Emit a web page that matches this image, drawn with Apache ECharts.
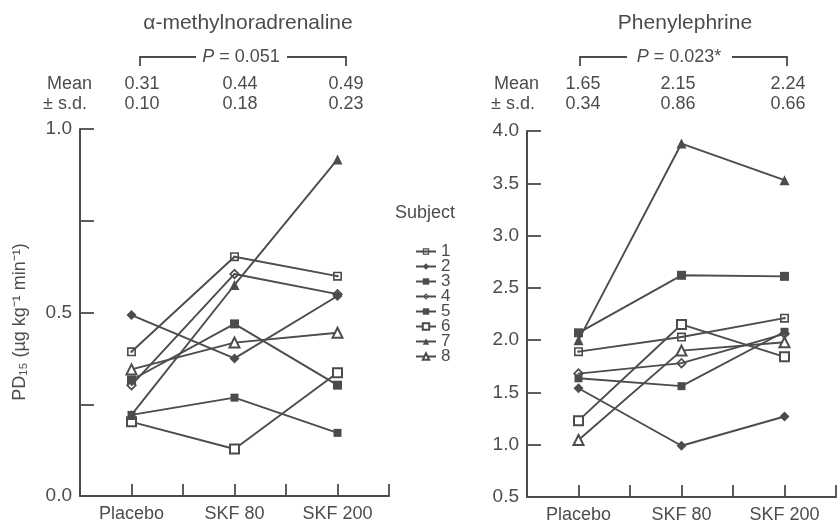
<!DOCTYPE html>
<html>
<head>
<meta charset="utf-8">
<script src="https://cdn.jsdelivr.net/npm/echarts@6/dist/echarts.min.js"></script>
<style>
html, body { margin: 0; padding: 0; background: #fff; }
#c1 { width: 839px; height: 527px; }
</style>
</head>
<body>
<div id="c1"></div>
<script>
var categories = ['Placebo', 'SKF 80', 'SKF 200'];
var subjects = ['1', '2', '3', '4', '5', '6', '7', '8'];

// PD15 per subject: placebo, SKF 80, SKF 200
var amnValues = [
  [0.393, 0.652, 0.599],
  [0.493, 0.375, 0.545],
  [0.316, 0.469, 0.302],
  [0.302, 0.605, 0.550],
  [0.221, 0.268, 0.172],
  [0.202, 0.128, 0.336],
  [0.221, 0.575, 0.917],
  [0.345, 0.418, 0.445]
];
var pheValues = [
  [1.89, 2.03, 2.21],
  [1.54, 0.99, 1.27],
  [2.07, 2.62, 2.61],
  [1.68, 1.78, 2.06],
  [1.635, 1.56, 2.08],
  [1.23, 2.15, 1.84],
  [2.00, 3.88, 3.53],
  [1.045, 1.90, 1.98]
];
var amnMean = ['0.31', '0.44', '0.49'];
var amnSd = ['0.10', '0.18', '0.23'];
var pheMean = ['1.65', '2.15', '2.24'];
var pheSd = ['0.34', '0.86', '0.66'];

var ink = '#4c4c4c';
var font = '"Liberation Sans", Arial, sans-serif';

var sqDot = 'path://M0,0L10,0L10,10L0,10Z M1.8,1.8L1.8,8.2L8.2,8.2L8.2,1.8Z M3.8,3.8L6.2,3.8L6.2,6.2L3.8,6.2Z';
var diaDot = 'path://M5,0L10,5L5,10L0,5Z M5,2.2L2.2,5L5,7.8L7.8,5Z M5,4L6,5L5,6L4,5Z';
var symbols = [sqDot, 'diamond', 'rect', diaDot, 'rect', 'emptyRect', 'triangle', 'emptyTriangle'];
var sizes = [9, 10, 9, 11, 8, 9, 10, 10];

function makeSeries(values, idx) {
  return values.map(function (v, s) {
    return {
      name: subjects[s],
      type: 'line',
      xAxisIndex: idx,
      yAxisIndex: idx,
      symbol: symbols[s],
      symbolSize: sizes[s],
      showAllSymbol: true,
      lineStyle: { color: ink, width: 1.9 },
      itemStyle: { color: ink, borderColor: ink, borderWidth: symbols[s].indexOf('empty') === 0 ? 1.5 : 0 },
      data: v.map(function (y, i) { return [i, y]; })
    };
  });
}

function catLabel(v) {
  var i = Math.round(v);
  if (Math.abs(v - i) < 1e-6 && i >= 0 && i < categories.length) return categories[i];
  return '';
}

function xAxisFor(gi) {
  return {
    type: 'value', gridIndex: gi, min: -0.5, max: 2.5, interval: 0.5,
    axisLine: { onZero: false, lineStyle: { color: ink, width: 2 } },
    axisTick: { inside: true, length: 12, lineStyle: { color: ink, width: 1.8 } },
    axisLabel: { formatter: catLabel, color: ink, fontSize: 18, fontFamily: font, margin: 9 },
    splitLine: { show: false }
  };
}

function textEl(x, y, str, size, align) {
  return {
    type: 'text', x: x, y: y,
    style: {
      text: str, fill: ink, font: size + 'px ' + font,
      textAlign: align || 'center', textVerticalAlign: 'middle',
      rich: { i: { fontStyle: 'italic', fontSize: size, fontFamily: font, fill: ink } }
    }
  };
}

function bracket(x1, x2, t1, t2) {
  var y = 57;
  return [
    { type: 'polyline', shape: { points: [[x1, 66], [x1, y], [t1, y]] }, style: { stroke: ink, lineWidth: 1.8, fill: null } },
    { type: 'polyline', shape: { points: [[t2, y], [x2, y], [x2, 66]] }, style: { stroke: ink, lineWidth: 1.8, fill: null } }
  ];
}

var graphics = [
  textEl(248, 23, 'α-methylnoradrenaline', 21),
  textEl(685, 23, 'Phenylephrine', 21),
  textEl(241, 57, '{i|P} = 0.051', 18),
  textEl(679, 57, '{i|P} = 0.023*', 18),
  textEl(47, 84, 'Mean', 18, 'left'),
  textEl(43, 104, '± s.d.', 18, 'left'),
  textEl(494, 84, 'Mean', 18, 'left'),
  textEl(491, 104, '± s.d.', 18, 'left'),
  textEl(395, 213, 'Subject', 18, 'left'),
  {
    type: 'text', x: 20, y: 322, rotation: Math.PI / 2,
    style: { text: 'PD₁₅ (µg kg⁻¹ min⁻¹)', fill: ink, font: '18px ' + font, textAlign: 'center', textVerticalAlign: 'middle' }
  }
].concat(bracket(140, 346, 196, 287), bracket(580, 787, 627, 732));

var amnX = [142, 240, 346];
var pheX = [583, 678, 788];
amnMean.forEach(function (m, i) {
  graphics.push(textEl(amnX[i], 84, m, 18));
  graphics.push(textEl(amnX[i], 104, amnSd[i], 18));
});
pheMean.forEach(function (m, i) {
  graphics.push(textEl(pheX[i], 84, m, 18));
  graphics.push(textEl(pheX[i], 104, pheSd[i], 18));
});

var option = {
  animation: false,
  backgroundColor: '#fff',
  textStyle: { fontFamily: font, color: ink },
  grid: [
    { left: 80, top: 129, width: 309, height: 367 },
    { left: 527, top: 131, width: 315, height: 366 }
  ],
  xAxis: [xAxisFor(0), xAxisFor(1)],
  yAxis: [
    {
      type: 'value', gridIndex: 0, min: 0, max: 1, interval: 0.25,
      axisLine: { show: true, onZero: false, lineStyle: { color: ink, width: 2 } },
      axisTick: { show: true, inside: true, length: 14, lineStyle: { color: ink, width: 1.8 } },
      axisLabel: {
        color: ink, fontSize: 19, fontFamily: font, margin: 8,
        formatter: function (v) { return (Math.abs(v * 2 - Math.round(v * 2)) < 1e-6) ? v.toFixed(1) : ''; }
      },
      splitLine: { show: false }
    },
    {
      type: 'value', gridIndex: 1, min: 0.5, max: 4, interval: 0.5,
      axisLine: { show: true, onZero: false, lineStyle: { color: ink, width: 2 } },
      axisTick: { show: true, inside: true, length: 14, lineStyle: { color: ink, width: 1.8 } },
      axisLabel: {
        color: ink, fontSize: 19, fontFamily: font, margin: 8,
        formatter: function (v) { return v.toFixed(1); }
      },
      splitLine: { show: false }
    }
  ],
  legend: {
    data: subjects,
    orient: 'vertical',
    left: 410, top: 238,
    itemWidth: 20, itemHeight: 8, itemGap: -2,
    textStyle: { color: ink, fontSize: 17, fontFamily: font, lineHeight: 15 },
    selectedMode: false
  },
  graphic: graphics,
  series: makeSeries(amnValues, 0).concat(makeSeries(pheValues, 1))
};

var myChart = echarts.init(document.getElementById('c1'));
myChart.setOption(option);
</script>
</body>
</html>
